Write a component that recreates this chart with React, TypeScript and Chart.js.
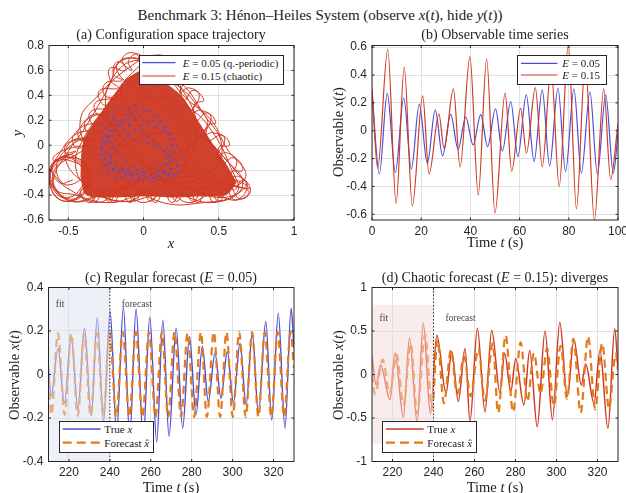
import React, { useEffect, useRef } from "react";
import { Chart, registerables } from "chart.js";

Chart.register(...registerables);

const SERIF = '"Liberation Serif", "Times New Roman", serif';
const SANS = "Liberation Sans";
const BLUE = "#4a4ed6";
const RED = "#cf3a22";
const ORANGE = "#e47a1c";
const GRID = "#e0e0e0";
const AXIS = "#262626";

// ---------- Panel (a): configuration space trajectory (x, y) ----------
const orbitLowE: [number, number][] = [
  [-0.05, 0.33], [-0.28, 0.0], [-0.1, -0.22], [0.2, -0.26], [0.1, 0.0], [-0.2, 0.2], [-0.25, -0.15],
  [0.05, -0.27], [0.25, -0.1], [0.05, 0.28], [-0.15, 0.1], [-0.28, -0.22], [-0.05, -0.18], [0.22, -0.22],
  [0.15, 0.12], [-0.02, 0.3], [-0.22, 0.05], [-0.18, -0.25], [0.12, -0.15], [0.2, 0.05], [-0.1, 0.22],
  [-0.3, -0.08], [-0.05, -0.27], [0.25, -0.2], [0.0, 0.1], [-0.12, 0.32], [-0.26, 0.12], [-0.15, -0.1],
  [0.08, -0.25], [0.22, 0.0], [0.05, 0.2], [-0.2, -0.05], [-0.22, -0.26], [0.15, -0.27], [0.18, -0.05],
  [-0.08, 0.05], [-0.24, 0.25], [-0.27, -0.1], [0.0, -0.24], [0.2, -0.18],
];
const orbitHighE: [number, number][] = [
  [0.3, -0.1], [0.55, -0.3], [0.7, -0.37], [0.62, -0.44], [0.45, -0.4], [0.3, -0.46], [0.15, -0.38],
  [0.0, -0.46], [-0.15, -0.38], [-0.3, -0.46], [-0.45, -0.4], [-0.58, -0.36], [-0.63, -0.22], [-0.55, -0.1],
  [-0.42, -0.14], [-0.36, -0.28], [-0.43, -0.42], [-0.55, -0.4], [-0.6, -0.28], [-0.5, -0.05], [-0.4, 0.12],
  [-0.3, 0.32], [-0.22, 0.5], [-0.17, 0.66], [-0.08, 0.7], [0.02, 0.64], [0.1, 0.48], [0.22, 0.3],
  [0.36, 0.12], [0.5, -0.05], [0.62, -0.22], [0.68, -0.33], [0.5, -0.42], [0.25, -0.3], [0.0, -0.15],
  [-0.25, 0.0], [-0.45, 0.05], [-0.52, -0.1], [-0.4, -0.3], [-0.2, -0.44], [0.05, -0.4], [0.25, -0.2],
  [0.35, 0.1], [0.28, 0.4], [0.1, 0.6], [-0.05, 0.68], [-0.2, 0.55], [-0.25, 0.3], [-0.15, 0.05],
  [0.05, -0.2], [0.3, -0.42], [0.55, -0.44], [0.66, -0.3], [0.55, -0.12], [0.4, 0.05], [0.2, 0.1],
  [-0.05, 0.05], [-0.3, -0.15], [-0.5, -0.32], [-0.58, -0.18], [-0.48, 0.0], [-0.3, 0.1], [-0.1, 0.25],
  [0.05, 0.45], [0.15, 0.62], [0.05, 0.7], [-0.1, 0.62], [-0.3, 0.4], [-0.42, 0.2], [-0.35, -0.05],
  [-0.15, -0.25], [0.1, -0.45], [0.4, -0.46], [0.62, -0.38], [0.58, -0.18], [0.45, 0.12], [0.3, 0.3],
  [0.12, 0.38], [-0.08, 0.32], [-0.22, 0.18], [-0.38, -0.02], [-0.6, -0.22], [-0.5, -0.44], [-0.3, -0.4],
  [-0.05, -0.3], [0.2, -0.1], [0.42, 0.15], [0.38, 0.28], [0.2, 0.5], [0.0, 0.58], [-0.15, 0.45],
  [-0.05, 0.2], [0.15, -0.05], [0.4, -0.25], [0.7, -0.35], [0.6, -0.28], [0.35, -0.35], [0.1, -0.28],
  [-0.1, -0.45], [-0.35, -0.35], [-0.45, -0.18], [-0.4, 0.05], [-0.22, 0.35], [-0.1, 0.55], [0.05, 0.66],
  [0.25, 0.5], [0.4, 0.25], [0.52, 0.0], [0.45, -0.2], [0.2, -0.3], [-0.05, -0.1], [-0.2, 0.15],
  [-0.32, 0.25], [-0.45, 0.1], [-0.55, -0.05], [-0.62, -0.25], [-0.48, -0.45], [-0.2, -0.35], [0.1, -0.2],
  [0.3, 0.0], [0.2, 0.25], [-0.02, 0.42], [-0.18, 0.62], [-0.05, 0.7], [0.15, 0.55], [0.28, 0.38],
  [0.45, 0.2], [0.55, -0.02], [0.68, -0.25], [0.5, -0.35], [0.3, -0.25], [0.0, -0.38], [-0.25, -0.46],
  [-0.5, -0.35], [-0.62, -0.2],
];
// looping excursions along the rim of the chaotic region
const orbitHighERim: [number, number][] = [
  [-0.45, -0.44], [-0.38, -0.33], [-0.32, -0.45], [-0.26, -0.34], [-0.2, -0.46], [-0.13, -0.33], [-0.06, -0.45],
  [0.01, -0.34], [0.08, -0.46], [0.15, -0.33], [0.22, -0.45], [0.29, -0.34], [0.36, -0.46], [0.43, -0.33],
  [0.5, -0.45], [0.57, -0.34], [0.64, -0.43], [0.71, -0.37], [0.66, -0.28], [0.6, -0.36], [0.58, -0.22],
  [0.66, -0.2], [0.6, -0.1], [0.52, -0.15], [0.5, -0.02], [0.57, 0.0], [0.52, 0.08], [0.43, 0.04],
  [0.43, 0.16], [0.48, 0.18], [0.42, 0.26], [0.35, 0.2], [0.34, 0.33], [0.4, 0.36], [0.33, 0.44],
  [0.27, 0.36], [0.25, 0.5], [0.3, 0.53], [0.22, 0.6], [0.17, 0.5], [0.12, 0.64], [0.18, 0.68],
  [0.08, 0.72], [0.03, 0.62], [-0.03, 0.73], [-0.1, 0.68], [-0.08, 0.6], [-0.17, 0.67], [-0.2, 0.57],
  [-0.14, 0.52], [-0.25, 0.5], [-0.26, 0.4], [-0.2, 0.38], [-0.32, 0.34], [-0.3, 0.24], [-0.24, 0.26],
  [-0.38, 0.2], [-0.37, 0.1], [-0.3, 0.12], [-0.46, 0.08], [-0.45, -0.02], [-0.38, 0.0], [-0.55, -0.05],
  [-0.6, -0.12], [-0.5, -0.12], [-0.4, -0.2], [-0.42, -0.35], [-0.52, -0.42], [-0.6, -0.35], [-0.62, -0.22],
  [-0.55, -0.1], [-0.45, -0.13], [-0.37, -0.25], [-0.42, -0.4], [-0.55, -0.44], [-0.62, -0.3], [-0.58, -0.15],
  [-0.46, -0.1], [-0.36, -0.2], [-0.38, -0.36], [-0.5, -0.45], [-0.6, -0.38], [-0.63, -0.24], [-0.52, -0.08],
  [-0.4, -0.15], [-0.35, -0.3], [-0.42, -0.38], [-0.35, -0.46], [-0.29, -0.35], [-0.23, -0.45], [-0.16, -0.34],
  [-0.09, -0.46], [-0.02, -0.35], [0.05, -0.45], [0.12, -0.34], [0.19, -0.46], [0.26, -0.35], [0.33, -0.45],
  [0.4, -0.34], [0.47, -0.46], [0.54, -0.35], [0.61, -0.44], [0.69, -0.33], [0.63, -0.25], [0.55, -0.28],
  [0.62, -0.14], [0.55, -0.06], [0.48, -0.1], [0.54, 0.05], [0.46, 0.1], [0.4, 0.08], [0.45, 0.22],
  [0.38, 0.28], [0.32, 0.26], [0.37, 0.4], [0.3, 0.46], [0.24, 0.42], [0.28, 0.56], [0.2, 0.62],
  [0.14, 0.56], [0.15, 0.68], [0.05, 0.72], [0.0, 0.66], [-0.06, 0.74], [-0.14, 0.7], [-0.12, 0.6],
  [-0.22, 0.62], [-0.22, 0.52], [-0.17, 0.46], [-0.29, 0.44], [-0.28, 0.34], [-0.22, 0.3], [-0.35, 0.27],
  [-0.34, 0.17], [-0.27, 0.18], [-0.42, 0.14], [-0.42, 0.04], [-0.35, 0.05], [-0.5, 0.02], [-0.52, -0.06],
  [-0.45, -0.05], [-0.6, -0.16], [-0.56, -0.3], [-0.47, -0.28],
];
// filled core of the chaotic region (upper and lower edges)
const coreUpper: [number, number][] = [
  [-0.42, -0.25], [-0.4, 0.03], [-0.3, 0.23], [-0.2, 0.4], [-0.1, 0.54], [0.0, 0.6], [0.12, 0.52],
  [0.25, 0.4], [0.35, 0.22], [0.45, 0.03], [0.55, -0.15], [0.62, -0.3],
];
const coreLower: [number, number][] = [
  [-0.42, -0.25], [-0.38, -0.4], [-0.2, -0.42], [0.0, -0.41], [0.2, -0.42], [0.4, -0.41], [0.55, -0.4], [0.62, -0.3],
];
const aXTicks = [-0.5, 0, 0.5, 1];
const aYTicks = [-0.6, -0.4, -0.2, 0, 0.2, 0.4, 0.6, 0.8];

// ---------- Panel (b): observable time series (turning points) ----------
const bTimeLow = [0, 3.0, 6.2, 9.5, 12.9, 16.0, 19.2, 22.5, 25.7, 28.7, 32.0, 35.0, 38.1, 41.1, 44.2, 47.0, 50.2, 53.0, 56.4, 59.3, 62.7, 65.9, 69.2, 72.2, 75.6, 78.7, 82.1, 85.1, 88.6, 91.6, 95.0, 98.1, 100];
const bXLow = [0.28, -0.31, 0.27, -0.3, 0.235, -0.275, 0.19, -0.235, 0.15, -0.18, 0.117, -0.133, 0.097, -0.102, 0.116, -0.114, 0.158, -0.145, 0.21, -0.186, 0.257, -0.22, 0.293, -0.253, 0.305, -0.294, 0.3, -0.305, 0.28, -0.31, 0.257, -0.305, -0.02];
const bTimeHigh = [0, 2.3, 6.4, 9.8, 13.1, 16.4, 20.6, 23.2, 27.2, 29.3, 33.1, 35.8, 39.8, 43.2, 46.6, 50.0, 54.1, 56.8, 60.4, 62.8, 66.4, 69.2, 72.8, 76.1, 79.8, 83.1, 86.7, 90.4, 94.2, 97.0, 100];
const bXHigh = [0.3, -0.27, 0.585, -0.52, 0.456, -0.54, 0.25, -0.31, 0.12, -0.126, 0.3, -0.26, 0.53, -0.46, 0.515, -0.59, 0.27, -0.29, 0.16, -0.16, 0.31, -0.26, 0.45, -0.4, 0.62, -0.56, 0.5, -0.641, 0.3, -0.35, 0.05];
const bXTicks = [0, 20, 40, 60, 80, 100];
const bYTicks = [-0.6, -0.4, -0.2, 0, 0.2, 0.4, 0.6];

// ---------- Panel (c): regular forecast ----------
const cTimeTrue = [210, 211.3, 214.6, 217.8, 221.1, 224.4, 227.6, 230.9, 233.8, 236.9, 240.1, 243.3, 246.6, 249.7, 252.8, 256.3, 259.5, 262.9, 265.9, 268.9, 272.4, 275.6, 278.9, 282.1, 285.2, 288.1, 291.4, 294.3, 297.4, 300.4, 303.6, 306.6, 309.6, 312.6, 316.2, 319.1, 322.3, 325.6, 328.6, 330];
const cXTrue = [0.037, -0.1, 0.12, -0.13, 0.175, -0.16, 0.213, -0.19, 0.26, -0.216, 0.293, -0.27, 0.31, -0.29, 0.3, -0.3, 0.265, -0.31, 0.25, -0.285, 0.213, -0.246, 0.175, -0.185, 0.13, -0.124, 0.098, -0.109, 0.106, -0.13, 0.144, -0.14, 0.19, -0.18, 0.244, -0.21, 0.282, -0.246, 0.305, 0.12];
const cTimeFc = [210, 211.4, 214.6, 217.9, 221.1, 224.3, 227.4, 230.6, 233.7, 236.8, 239.9, 243.1, 246.3, 249.5, 252.7, 255.9, 259.1, 262.3, 265.4, 268.5, 271.6, 274.8, 278.0, 281.2, 284.5, 287.4, 290.8, 293.9, 297.0, 300.1, 303.2, 306.4, 309.5, 312.6, 315.7, 318.9, 322.0, 325.2, 328.3, 330];
const cXFc = [-0.02, -0.185, 0.19, -0.185, 0.19, -0.19, 0.19, -0.19, 0.19, -0.19, 0.195, -0.195, 0.195, -0.195, 0.195, -0.195, 0.195, -0.195, 0.195, -0.195, 0.195, -0.195, 0.19, -0.195, 0.195, -0.195, 0.195, -0.195, 0.195, -0.195, 0.195, -0.195, 0.195, -0.195, 0.195, -0.195, 0.195, -0.195, 0.195, 0.03];
const cdXTicks = [220, 240, 260, 280, 300, 320];
const cYTicks = [-0.4, -0.2, 0, 0.2, 0.4];

// ---------- Panel (d): chaotic forecast ----------
const dTimeTrue = [210, 212.0, 214.2, 218.8, 221.2, 225.3, 228.3, 232.0, 235.0, 238.5, 241.6, 246.1, 248.9, 252.1, 255.4, 257.8, 261.4, 265.1, 268.4, 272.4, 274.7, 277.7, 280.1, 284.1, 286.9, 290.6, 294.4, 298.0, 301.6, 305.3, 308.5, 312.1, 314.2, 318.3, 321.2, 325.1, 328.4, 330];
const dXTrue = [0.21, -0.12, 0.11, -0.29, 0.245, -0.49, 0.42, -0.55, 0.59, -0.45, 0.45, -0.21, 0.265, -0.31, 0.3, -0.54, 0.53, -0.43, 0.51, -0.21, 0.245, -0.195, 0.18, -0.35, 0.276, -0.6, 0.5, -0.52, 0.6, -0.25, 0.4, -0.12, 0.12, -0.33, 0.28, -0.62, 0.525, 0.06];
const dTimeFc = [210, 211.5, 215.2, 218.6, 222.0, 225.3, 228.9, 232.0, 235.9, 239.3, 241.9, 245.1, 248.5, 251.5, 254.9, 258.1, 261.9, 265.1, 268.9, 271.5, 275.2, 278.8, 282.5, 285.8, 289.0, 292.2, 295.4, 298.7, 302.0, 305.1, 308.2, 311.8, 315.4, 318.9, 322.3, 325.6, 328.9, 330];
const dXFc = [0.0, -0.23, 0.17, -0.22, 0.23, -0.35, 0.36, -0.45, 0.46, -0.4, 0.4, -0.33, 0.28, -0.23, 0.21, -0.25, 0.3, -0.3, 0.36, -0.44, 0.45, -0.43, 0.37, -0.31, 0.245, -0.22, 0.3, -0.36, 0.33, -0.28, 0.41, -0.44, 0.44, -0.4, 0.36, -0.39, 0.24, 0.05];
const dYTicks = [-1, -0.5, 0, 0.5, 1];

// ---------- helpers ----------
const pts = (xs: number[], ys: number[]) => xs.map((x, i) => ({ x, y: ys[i] }));
const pairs = (arr: [number, number][]) => arr.map(([x, y]) => ({ x, y }));
const fmtTick = (v: number) => String(Math.round(v * 1000) / 1000);

type PanelSpec = {
  key: string;
  canvasLeft: number; canvasTop: number; canvasW: number; canvasH: number;
  plotLeft: number; plotRight: number; plotTop: number; plotBottom: number;
  xMin: number; xMax: number; yMin: number; yMax: number;
  xTicks: number[]; yTicks: number[];
  datasets: any[];
  fit?: { x0: number; x1: number; y0: number; y1: number; color: string };
  split?: number;
  notes?: { x: number; y: number; text: string }[];
};

function framePlugin(s: PanelSpec) {
  return {
    id: "frame_" + s.key,
    afterDatasetsDraw(chart: any) {
      const { ctx, chartArea: a } = chart;
      const xs = chart.scales.x, ys = chart.scales.y;
      ctx.save();
      ctx.beginPath();
      ctx.rect(a.left, a.top, a.right - a.left, a.bottom - a.top);
      ctx.clip();
      if (s.fit) {
        const x0 = xs.getPixelForValue(s.fit.x0), x1 = xs.getPixelForValue(s.fit.x1);
        const y0 = ys.getPixelForValue(s.fit.y1), y1 = ys.getPixelForValue(s.fit.y0);
        ctx.fillStyle = s.fit.color;
        ctx.fillRect(x0, y0, x1 - x0, y1 - y0);
      }
      if (s.split !== undefined) {
        const px = xs.getPixelForValue(s.split);
        ctx.strokeStyle = "#333";
        ctx.lineWidth = 1;
        ctx.setLineDash([1.5, 2]);
        ctx.beginPath();
        ctx.moveTo(px, a.top);
        ctx.lineTo(px, a.bottom);
        ctx.stroke();
        ctx.setLineDash([]);
      }
      (s.notes || []).forEach((n) => {
        ctx.fillStyle = "#444";
        ctx.font = '9.5px "Liberation Serif"';
        ctx.textAlign = "left";
        ctx.textBaseline = "middle";
        ctx.fillText(n.text, xs.getPixelForValue(n.x), ys.getPixelForValue(n.y));
      });
      ctx.restore();
    },
    afterDraw(chart: any) {
      const { ctx, chartArea: a } = chart;
      const xs = chart.scales.x, ys = chart.scales.y;
      ctx.save();
      ctx.strokeStyle = AXIS;
      ctx.lineWidth = 1;
      ctx.strokeRect(a.left, a.top, a.right - a.left, a.bottom - a.top);
      const tl = 2.5;
      ctx.beginPath();
      s.xTicks.forEach((v) => {
        const p = xs.getPixelForValue(v);
        if (p < a.left - 0.5 || p > a.right + 0.5) return;
        ctx.moveTo(p, a.bottom); ctx.lineTo(p, a.bottom - tl);
        ctx.moveTo(p, a.top); ctx.lineTo(p, a.top + tl);
      });
      s.yTicks.forEach((v) => {
        const p = ys.getPixelForValue(v);
        if (p < a.top - 0.5 || p > a.bottom + 0.5) return;
        ctx.moveTo(a.left, p); ctx.lineTo(a.left + tl, p);
        ctx.moveTo(a.right, p); ctx.lineTo(a.right - tl, p);
      });
      ctx.stroke();
      ctx.restore();
    },
  };
}

function buildConfig(s: PanelSpec): any {
  const yAxisW = s.plotLeft - s.canvasLeft;
  const xAxisH = s.canvasTop + s.canvasH - s.plotBottom;
  const padTop = s.plotTop - s.canvasTop;
  const padRight = s.canvasLeft + s.canvasW - s.plotRight;
  const tickFont = { family: SANS, size: 12 };
  return {
    type: "line",
    data: { datasets: s.datasets },
    options: {
      animation: false,
      responsive: false,
      maintainAspectRatio: false,
      events: [],
      layout: { autoPadding: false, padding: { left: 0, top: padTop, right: padRight, bottom: 0 } },
      plugins: { legend: { display: false }, title: { display: false }, tooltip: { enabled: false } },
      elements: { point: { radius: 0 } },
      scales: {
        x: {
          type: "linear", position: "bottom", min: s.xMin, max: s.xMax,
          afterBuildTicks: (sc: any) => { sc.ticks = s.xTicks.map((v) => ({ value: v })); },
          afterFit: (sc: any) => { sc.height = xAxisH; sc.paddingLeft = 0; sc.paddingRight = 0; },
          grid: { color: GRID, lineWidth: 1, drawTicks: false },
          border: { display: false },
          ticks: { padding: 4, color: AXIS, font: tickFont, maxRotation: 0, autoSkip: false, callback: (v: any) => fmtTick(Number(v)) },
        },
        y: {
          type: "linear", position: "left", min: s.yMin, max: s.yMax,
          afterBuildTicks: (sc: any) => { sc.ticks = s.yTicks.map((v) => ({ value: v })); },
          afterFit: (sc: any) => { sc.width = yAxisW; sc.paddingTop = 0; sc.paddingBottom = 0; },
          grid: { color: GRID, lineWidth: 1, drawTicks: false },
          border: { display: false },
          ticks: { padding: 5, color: AXIS, font: tickFont, autoSkip: false, callback: (v: any) => fmtTick(Number(v)) },
        },
      },
    },
    plugins: [framePlugin(s)],
  };
}

const panels: PanelSpec[] = [
  {
    key: "a", canvasLeft: 0, canvasTop: 25, canvasW: 313, canvasH: 225,
    plotLeft: 49, plotRight: 294, plotTop: 45.5, plotBottom: 220,
    xMin: -0.628, xMax: 1, yMin: -0.6, yMax: 0.8, xTicks: aXTicks, yTicks: aYTicks,
    datasets: [
      { data: pairs(orbitHighE), borderColor: RED, borderWidth: 1.0, tension: 0.45, order: 0, pointRadius: 0 },
      { data: pairs(orbitHighERim), borderColor: RED, borderWidth: 1.0, tension: 0.5, order: 0, pointRadius: 0 },
      { data: pairs(coreUpper), borderColor: "rgba(0,0,0,0)", borderWidth: 0, tension: 0.3, fill: "+1", backgroundColor: "rgba(205,52,30,0.93)", order: 3, pointRadius: 0 },
      { data: pairs(coreLower), borderColor: "rgba(0,0,0,0)", borderWidth: 0, tension: 0.3, fill: false, order: 4, pointRadius: 0 },
      { data: pairs(orbitLowE), borderColor: BLUE, borderWidth: 1.3, borderDash: [2, 5], tension: 0.2, order: 1, pointRadius: 0 },
    ],
  },
  {
    key: "b", canvasLeft: 313, canvasTop: 25, canvasW: 313, canvasH: 225,
    plotLeft: 372, plotRight: 618, plotTop: 45.5, plotBottom: 220,
    xMin: 0, xMax: 100, yMin: -0.641, yMax: 0.612, xTicks: bXTicks, yTicks: bYTicks,
    datasets: [
      { data: pts(bTimeHigh, bXHigh), borderColor: RED, borderWidth: 1.2, cubicInterpolationMode: "monotone", order: 0, pointRadius: 0 },
      { data: pts(bTimeLow, bXLow), borderColor: BLUE, borderWidth: 1.2, cubicInterpolationMode: "monotone", order: 1, pointRadius: 0 },
    ],
  },
  {
    key: "c", canvasLeft: 0, canvasTop: 268, canvasW: 313, canvasH: 225,
    plotLeft: 48.5, plotRight: 294, plotTop: 287.5, plotBottom: 461.5,
    xMin: 210, xMax: 330, yMin: -0.4, yMax: 0.4, xTicks: cdXTicks, yTicks: cYTicks,
    datasets: [
      { data: pts(cTimeFc, cXFc), borderColor: ORANGE, borderWidth: 2.2, borderDash: [8, 5], cubicInterpolationMode: "monotone", order: 0, pointRadius: 0 },
      { data: pts(cTimeTrue, cXTrue), borderColor: BLUE, borderWidth: 1.4, cubicInterpolationMode: "monotone", order: 1, pointRadius: 0 },
    ],
    fit: { x0: 210, x1: 240, y0: -0.4, y1: 0.4, color: "rgba(222,226,240,0.5)" },
    split: 240,
    notes: [{ x: 213.6, y: 0.32, text: "fit" }, { x: 245.8, y: 0.32, text: "forecast" }],
  },
  {
    key: "d", canvasLeft: 313, canvasTop: 268, canvasW: 313, canvasH: 225,
    plotLeft: 372, plotRight: 618, plotTop: 287.5, plotBottom: 461.5,
    xMin: 210, xMax: 330, yMin: -1, yMax: 1, xTicks: cdXTicks, yTicks: dYTicks,
    datasets: [
      { data: pts(dTimeFc, dXFc), borderColor: ORANGE, borderWidth: 2.2, borderDash: [8, 5], cubicInterpolationMode: "monotone", order: 0, pointRadius: 0 },
      { data: pts(dTimeTrue, dXTrue), borderColor: RED, borderWidth: 1.5, cubicInterpolationMode: "monotone", order: 1, pointRadius: 0 },
    ],
    fit: { x0: 210, x1: 240, y0: -0.8, y1: 0.8, color: "rgba(244,218,218,0.5)" },
    split: 240,
    notes: [{ x: 213.7, y: 0.64, text: "fit" }, { x: 245.9, y: 0.64, text: "forecast" }],
  },
];

function ChartCanvas({ spec }: { spec: PanelSpec }) {
  const ref = useRef<HTMLCanvasElement | null>(null);
  useEffect(() => {
    if (!ref.current) return;
    const chart = new Chart(ref.current, buildConfig(spec));
    return () => chart.destroy();
  }, [spec]);
  return (
    <canvas
      ref={ref}
      width={spec.canvasW}
      height={spec.canvasH}
      style={{ position: "absolute", left: spec.canvasLeft, top: spec.canvasTop, width: spec.canvasW, height: spec.canvasH }}
    />
  );
}

function Txt({ x, y, size = 14, anchor = "middle", rot = false, children }: any) {
  const tx = anchor === "middle" ? "-50%" : anchor === "end" ? "-100%" : "0";
  return (
    <div
      style={{
        position: "absolute", left: x, top: y, whiteSpace: "nowrap", fontFamily: SERIF, fontSize: size,
        color: "#222", lineHeight: 1, transform: `translate(${tx}, -50%)${rot ? " rotate(-90deg)" : ""}`,
      }}
    >
      {children}
    </div>
  );
}

type LegendRow = { y: number; x0: number; x1: number; color: string; width: number; dash?: string; textX: number; label: any };

function Legend({ l, t, r, b, rows }: { l: number; t: number; r: number; b: number; rows: LegendRow[] }) {
  return (
    <>
      <div style={{ position: "absolute", left: l, top: t, width: r - l, height: b - t, background: "#fff", border: `1px solid ${AXIS}`, boxSizing: "border-box" }} />
      <svg style={{ position: "absolute", left: l, top: t }} width={r - l} height={b - t}>
        {rows.map((row, i) => (
          <line key={i} x1={row.x0 - l} x2={row.x1 - l} y1={row.y - t} y2={row.y - t} stroke={row.color} strokeWidth={row.width} strokeDasharray={row.dash} />
        ))}
      </svg>
      {rows.map((row, i) => (
        <Txt key={i} x={row.textX} y={row.y} anchor="start" size={11}>{row.label}</Txt>
      ))}
    </>
  );
}

export default function App() {
  return (
    <div style={{ position: "fixed", left: 0, top: 0, width: 626, height: 493, background: "#fff", overflow: "hidden" }}>
      {panels.map((p) => <ChartCanvas key={p.key} spec={p} />)}

      <Txt x={320} y={15} size={15}>Benchmark 3: Hénon–Heiles System (observe <i>x</i>(<i>t</i>), hide <i>y</i>(<i>t</i>))</Txt>

      <Txt x={171} y={35}>(a) Configuration space trajectory</Txt>
      <Txt x={495} y={35}>(b) Observable time series</Txt>
      <Txt x={171} y={277.5}>(c) Regular forecast (<i>E</i> = 0.05)</Txt>
      <Txt x={495} y={277.5}>(d) Chaotic forecast (<i>E</i> = 0.15): diverges</Txt>

      <Txt x={171} y={243} size={14.5}><i>x</i></Txt>
      <Txt x={16.5} y={133} size={14.5} rot><i>y</i></Txt>
      <Txt x={495} y={242} size={14.5}>Time <i>t</i> (s)</Txt>
      <Txt x={338} y={132} size={14.5} rot>Observable <i>x</i>(<i>t</i>)</Txt>
      <Txt x={171} y={487} size={14.5}>Time <i>t</i> (s)</Txt>
      <Txt x={13.5} y={375} size={14.5} rot>Observable <i>x</i>(<i>t</i>)</Txt>
      <Txt x={495} y={487} size={14.5}>Time <i>t</i> (s)</Txt>
      <Txt x={338} y={375} size={14.5} rot>Observable <i>x</i>(<i>t</i>)</Txt>

      <Legend l={138.5} t={55} r={283.5} b={85} rows={[
        { y: 62.7, x0: 141.7, x1: 175, color: BLUE, width: 1.2, textX: 182.7, label: <><i>E</i> = 0.05 (q.-periodic)</> },
        { y: 76, x0: 141.7, x1: 175, color: RED, width: 1.2, textX: 182.7, label: <><i>E</i> = 0.15 (chaotic)</> },
      ]} />
      <Legend l={517} t={55} r={607} b={85} rows={[
        { y: 63.3, x0: 521, x1: 557.5, color: BLUE, width: 1.2, textX: 562.3, label: <><i>E</i> = 0.05</> },
        { y: 75, x0: 521, x1: 557.5, color: RED, width: 1.2, textX: 562.3, label: <><i>E</i> = 0.15</> },
      ]} />
      <Legend l={59} t={421} r={153.5} b={452.5} rows={[
        { y: 429, x0: 62.7, x1: 100.7, color: BLUE, width: 1.4, textX: 104.3, label: <>True <i>x</i></> },
        { y: 442.7, x0: 62.7, x1: 100.7, color: ORANGE, width: 2.2, dash: "9 5", textX: 104.3, label: <>Forecast <i>x̂</i></> },
      ]} />
      <Legend l={382.3} t={421} r={477} b={452.5} rows={[
        { y: 429, x0: 386.3, x1: 424, color: RED, width: 1.5, textX: 427.3, label: <>True <i>x</i></> },
        { y: 442.7, x0: 386.3, x1: 424, color: ORANGE, width: 2.2, dash: "9 5", textX: 427.3, label: <>Forecast <i>x̂</i></> },
      ]} />
    </div>
  );
}
